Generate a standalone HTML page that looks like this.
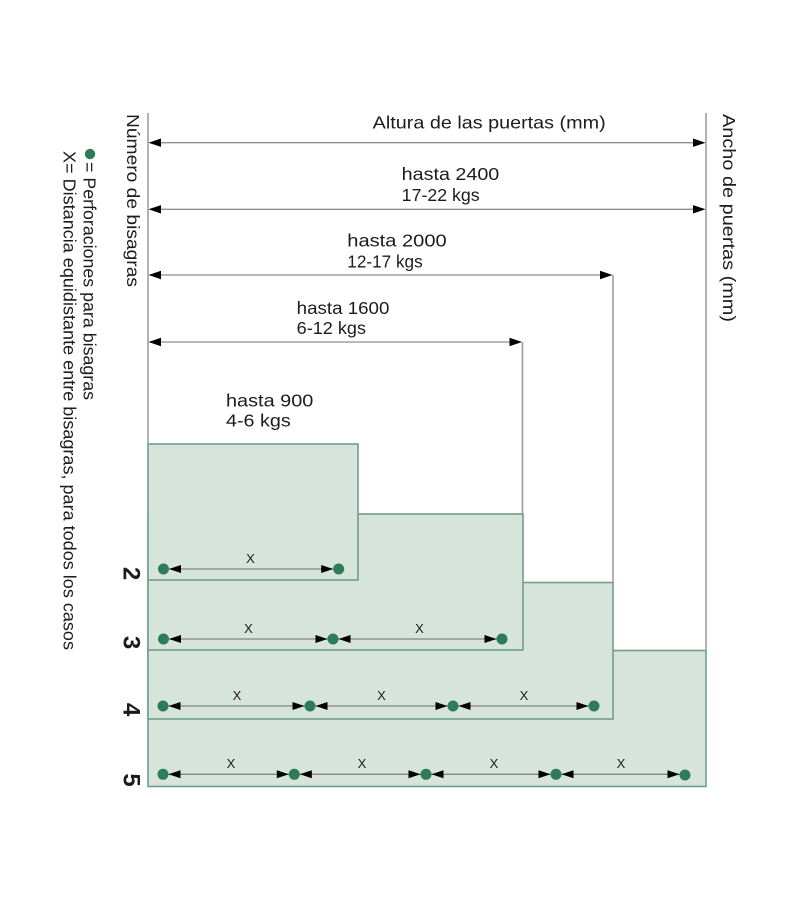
<!DOCTYPE html>
<html>
<head>
<meta charset="utf-8">
<style>
  html, body { margin: 0; padding: 0; background: #ffffff; }
  svg { display: block; }
  text { font-family: "Liberation Sans", Arial, sans-serif; fill: #1c1c1c; }
</style>
</head>
<body>
<svg width="800" height="900" viewBox="0 0 800 900" xmlns="http://www.w3.org/2000/svg">
  <rect x="0" y="0" width="800" height="900" fill="#ffffff"/>

  <!-- Boxes (largest first) -->
  <g fill="#d6e4db" stroke="#6f9e89" stroke-width="1.6">
    <rect x="148" y="650.5" width="558" height="136"/>
    <rect x="148" y="582.5" width="465" height="136.5"/>
    <rect x="148" y="514" width="375" height="136"/>
    <rect x="148" y="444" width="210" height="136"/>
  </g>

  <!-- Vertical guide lines -->
  <g stroke="#9e9e9e" stroke-width="1.6" fill="none">
    <line x1="148" y1="113" x2="148" y2="444"/>
    <line x1="706" y1="113" x2="706" y2="650.5"/>
    <line x1="613" y1="275" x2="613" y2="582.5"/>
    <line x1="522.5" y1="342" x2="522.5" y2="514"/>
  </g>

  <!-- Horizontal dimension arrows -->
  <g stroke="#8f8f8f" stroke-width="1.3">
    <line x1="150" y1="142.7" x2="704" y2="142.7"/>
    <line x1="150" y1="209.3" x2="704" y2="209.3"/>
    <line x1="150" y1="275" x2="611" y2="275"/>
    <line x1="150" y1="342" x2="520.5" y2="342"/>
  </g>
  <g fill="#000">
    <polygon points="148.5,142.7 161,138.5 161,146.9"/>
    <polygon points="705.5,142.7 693,138.5 693,146.9"/>
    <polygon points="148.5,209.3 161,205.1 161,213.5"/>
    <polygon points="705.5,209.3 693,205.1 693,213.5"/>
    <polygon points="148.5,275 161,270.8 161,279.2"/>
    <polygon points="612.5,275 600,270.8 600,279.2"/>
    <polygon points="148.5,342 161,337.8 161,346.2"/>
    <polygon points="522,342 509.5,337.8 509.5,346.2"/>
  </g>

  <!-- Horizontal labels -->
  <g font-size="17.5">
    <text x="372.7" y="128.3" textLength="233" lengthAdjust="spacingAndGlyphs">Altura de las puertas (mm)</text>
    <text x="401.7" y="180" textLength="97.6" lengthAdjust="spacingAndGlyphs">hasta 2400</text>
    <text x="401.7" y="201" textLength="78" lengthAdjust="spacingAndGlyphs">17-22 kgs</text>
    <text x="347.3" y="246.7" textLength="99.4" lengthAdjust="spacingAndGlyphs">hasta 2000</text>
    <text x="347.3" y="267.3" textLength="75.4" lengthAdjust="spacingAndGlyphs">12-17 kgs</text>
    <text x="296.7" y="314" textLength="92.7" lengthAdjust="spacingAndGlyphs">hasta 1600</text>
    <text x="296.7" y="334" textLength="69.3" lengthAdjust="spacingAndGlyphs">6-12 kgs</text>
    <text x="226" y="406.7" textLength="87.3" lengthAdjust="spacingAndGlyphs">hasta 900</text>
    <text x="226" y="426.7" textLength="64.7" lengthAdjust="spacingAndGlyphs">4-6 kgs</text>
  </g>

  <!-- Vertical labels (rotated) -->
  <g font-size="17.5">
    <text transform="translate(127,114) rotate(90)" textLength="173" lengthAdjust="spacingAndGlyphs">Número de bisagras</text>
    <text transform="translate(723,114) rotate(90)" textLength="208" lengthAdjust="spacingAndGlyphs">Ancho de puertas (mm)</text>
    <text transform="translate(83.5,162) rotate(90)" textLength="238" lengthAdjust="spacingAndGlyphs">= Perforaciones para bisagras</text>
    <text transform="translate(63.5,151) rotate(90)" textLength="499" lengthAdjust="spacingAndGlyphs">X= Distancia equidistante entre bisagras, para todos los casos</text>
  </g>
  <circle cx="90" cy="154" r="5.2" fill="#2e7b5b"/>

  <!-- Row numbers -->
  <g font-size="24" font-weight="bold" text-anchor="middle">
    <text transform="translate(123.5,573.5) rotate(90)">2</text>
    <text transform="translate(123.5,642.5) rotate(90)">3</text>
    <text transform="translate(123.5,709.5) rotate(90)">4</text>
    <text transform="translate(123.5,780) rotate(90)">5</text>
  </g>

  <!-- Row arrows -->
  <g stroke="#858585" stroke-width="1.3">
    <line x1="169" y1="569" x2="333" y2="569"/>
    <line x1="169" y1="639" x2="327.5" y2="639"/>
    <line x1="338.5" y1="639" x2="496.5" y2="639"/>
    <line x1="168.5" y1="706" x2="304.5" y2="706"/>
    <line x1="315.5" y1="706" x2="447.5" y2="706"/>
    <line x1="458.5" y1="706" x2="588.5" y2="706"/>
    <line x1="168.5" y1="774.3" x2="289" y2="774.3"/>
    <line x1="299.5" y1="774.3" x2="420.5" y2="774.3"/>
    <line x1="431.5" y1="774.3" x2="550.5" y2="774.3"/>
    <line x1="561.5" y1="774.3" x2="679.5" y2="774.3"/>
  </g>
  <g fill="#000">
    <!-- row 2 -->
    <polygon points="169,569 181,565 181,573"/>
    <polygon points="333.2,569 321.2,565 321.2,573"/>
    <!-- row 3 -->
    <polygon points="169,639 181,635 181,643"/>
    <polygon points="327.5,639 315.5,635 315.5,643"/>
    <polygon points="338.5,639 350.5,635 350.5,643"/>
    <polygon points="496.5,639 484.5,635 484.5,643"/>
    <!-- row 4 -->
    <polygon points="168.5,706 180.5,702 180.5,710"/>
    <polygon points="304.5,706 292.5,702 292.5,710"/>
    <polygon points="315.5,706 327.5,702 327.5,710"/>
    <polygon points="447.5,706 435.5,702 435.5,710"/>
    <polygon points="458.5,706 470.5,702 470.5,710"/>
    <polygon points="588.5,706 576.5,702 576.5,710"/>
    <!-- row 5 -->
    <polygon points="168.5,774.3 180.5,770.3 180.5,778.3"/>
    <polygon points="288.8,774.3 276.8,770.3 276.8,778.3"/>
    <polygon points="299.8,774.3 311.8,770.3 311.8,778.3"/>
    <polygon points="420.5,774.3 408.5,770.3 408.5,778.3"/>
    <polygon points="431.5,774.3 443.5,770.3 443.5,778.3"/>
    <polygon points="550.5,774.3 538.5,770.3 538.5,778.3"/>
    <polygon points="561.5,774.3 573.5,770.3 573.5,778.3"/>
    <polygon points="679.5,774.3 667.5,770.3 667.5,778.3"/>
  </g>

  <!-- Dots -->
  <g fill="#2e7b5b">
    <circle cx="163.5" cy="569" r="5.5"/>
    <circle cx="338.7" cy="569" r="5.5"/>
    <circle cx="163.5" cy="639" r="5.5"/>
    <circle cx="333" cy="639" r="5.5"/>
    <circle cx="502" cy="639" r="5.5"/>
    <circle cx="163" cy="706" r="5.5"/>
    <circle cx="310" cy="706" r="5.5"/>
    <circle cx="453" cy="706" r="5.5"/>
    <circle cx="594" cy="706" r="5.5"/>
    <circle cx="163" cy="774.3" r="5.5"/>
    <circle cx="294.3" cy="774.3" r="5.5"/>
    <circle cx="426" cy="774.3" r="5.5"/>
    <circle cx="556" cy="774.3" r="5.5"/>
    <circle cx="685" cy="775" r="5.5"/>
  </g>

  <!-- X labels -->
  <g font-size="13" text-anchor="middle">
    <text x="250.5" y="563">X</text>
    <text x="248.5" y="633">X</text>
    <text x="419.5" y="633">X</text>
    <text x="237" y="700">X</text>
    <text x="381.5" y="700">X</text>
    <text x="524" y="700">X</text>
    <text x="231" y="768">X</text>
    <text x="362" y="768">X</text>
    <text x="494" y="768">X</text>
    <text x="621" y="768">X</text>
  </g>
</svg>
</body>
</html>
